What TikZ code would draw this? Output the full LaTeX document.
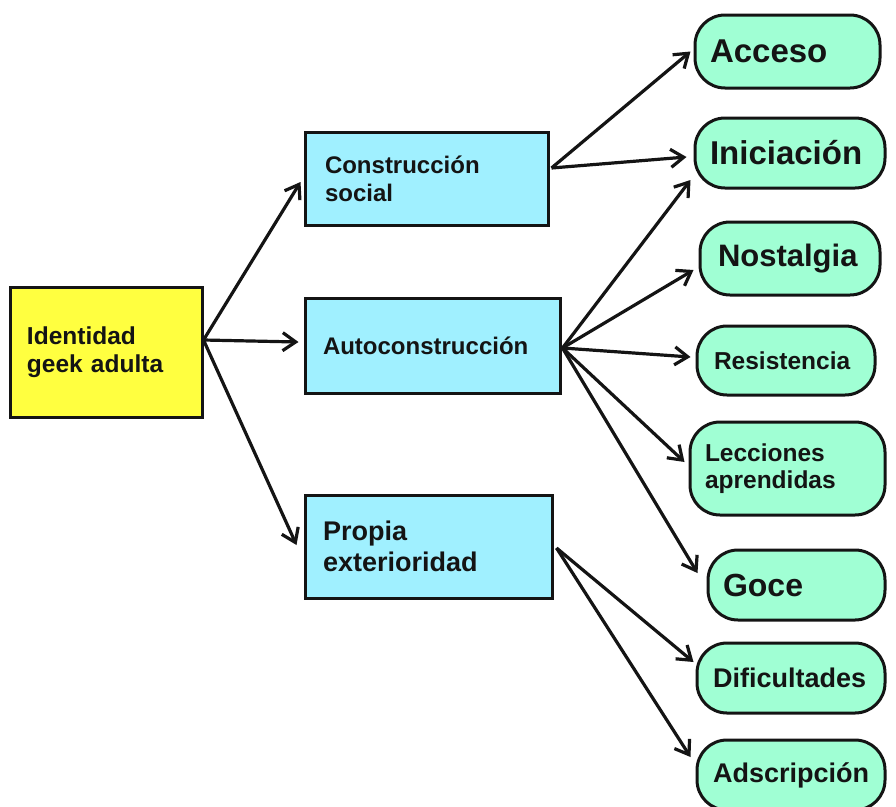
\documentclass[tikz,border=0pt]{standalone}
\usepackage{fontspec}
\setmainfont{Liberation Sans}
\usetikzlibrary{arrows.meta}
\definecolor{amarillo}{RGB}{255,255,64}
\definecolor{celeste}{RGB}{160,240,255}
\definecolor{menta}{RGB}{160,255,212}
\definecolor{tinta}{RGB}{20,20,20}
\newcommand{\tam}[2]{\bfseries\fontsize{#1}{#2}\selectfont}
\begin{document}
\begin{tikzpicture}[x=1pt,y=-1pt,
    caja/.style={draw=tinta, line width=3pt, inner ysep=0pt, align=left, text=tinta},
    raiz/.style={caja, fill=amarillo, inner xsep=17pt, text width=158pt, minimum height=130pt},
    rama/.style={caja, fill=celeste},
    hoja/.style={caja, fill=menta, rounded corners=30pt, inner xsep=15pt},
    flecha/.style={line width=3.2pt, draw=tinta, -{Straight Barb[length=13pt,width=18pt]}}]
    \useasboundingbox (0,0) rectangle (896,806);
    % nodo principal
    \node[raiz, font=\tam{24.5}{28}] (raiz) at (106,352) {Identidad\\geek adulta};
    % dimensiones
    \node[rama, inner xsep=20pt, text width=203pt, minimum height=93pt, font=\tam{24}{28}]
      (social) at (426.5,178.5) {Construcción\\social};
    \node[rama, inner xsep=18pt, text width=219pt, minimum height=95pt, font=\tam{24}{28}]
      (auto) at (432.5,345.5) {Autoconstrucción};
    \node[rama, inner xsep=18pt, text width=211pt, minimum height=103pt, font=\tam{27}{31}]
      (propia) at (428.5,546.5) {Propia\\exterioridad};
    % categorías
    \node[hoja, text width=155pt, minimum height=73pt, font=\tam{33}{36}]
      (acceso) at (787.5,51.5) {Acceso};
    \node[hoja, text width=160pt, minimum height=70pt, font=\tam{33}{36}]
      (inicio) at (790,153) {Iniciación};
    \node[hoja, inner xsep=18pt, text width=144pt, minimum height=73pt, font=\tam{31}{34}]
      (nostalgia) at (790,258.5) {Nostalgia};
    \node[hoja, inner xsep=17pt, text width=144pt, minimum height=69pt, font=\tam{24.5}{28}]
      (resist) at (786,360.5) {Resistencia};
    \node[hoja, text width=165pt, minimum height=93pt, font=\tam{24.5}{27.5}]
      (lecciones) at (787.5,468.5) {Lecciones\\aprendidas};
    \node[hoja, text width=147pt, minimum height=70pt, font=\tam{32}{35}]
      (goce) at (796.5,585) {Goce};
    \node[hoja, inner xsep=16pt, text width=156pt, minimum height=70pt, font=\tam{27}{30}]
      (dific) at (791,678) {Dificultades};
    \node[hoja, inner xsep=16pt, text width=156pt, minimum height=70pt, font=\tam{27}{30}]
      (adscr) at (791,775) {Adscripción};
    % puntos de salida
    \coordinate (sr) at ([yshift=12pt]raiz.east);
    \coordinate (ss) at ([xshift=2pt,yshift=10.5pt]social.east);
    \coordinate (sa) at ([xshift=1pt,yshift=-2.5pt]auto.east);
    \coordinate (sp) at ([xshift=3pt,yshift=-1.5pt]propia.east);
    % flechas
    \draw[flecha] (sr) -- ([xshift=-3pt,yshift=-3.5pt]social.west);
    \draw[flecha] (sr) -- ([xshift=-5pt,yshift=3.5pt]auto.west);
    \draw[flecha] (sr) -- ([xshift=-7pt,yshift=1.5pt]propia.west);
    \draw[flecha] (ss) -- ([xshift=-3pt]acceso.west);
    \draw[flecha] (ss) -- ([xshift=-7pt,yshift=-4pt]inicio.west);
    \draw[flecha] (sa) -- ([xshift=-3pt,yshift=-27pt]inicio.west);
    \draw[flecha] (sa) -- ([xshift=-5pt,yshift=-11.5pt]nostalgia.west);
    \draw[flecha] (sa) -- ([xshift=-5pt,yshift=3.5pt]resist.west);
    \draw[flecha] (sa) -- ([xshift=-4pt,yshift=6.5pt]lecciones.west);
    \draw[flecha] (sa) -- ([xshift=-9pt,yshift=12pt]goce.west);
    \draw[flecha] (sp) -- ([xshift=-2pt,yshift=16pt]dific.west);
    \draw[flecha] (sp) -- ([xshift=-5pt,yshift=18pt]adscr.west);
\end{tikzpicture}
\end{document}
